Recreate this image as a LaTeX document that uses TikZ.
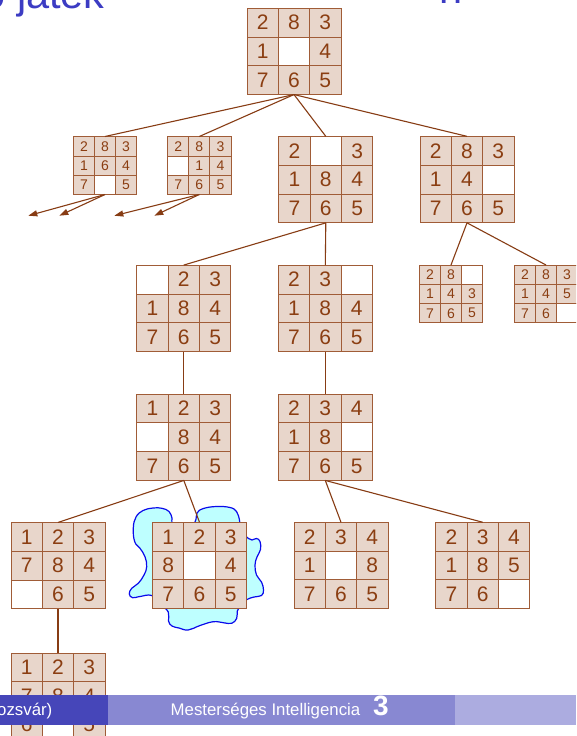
\documentclass[tikz,border=0pt]{standalone}
\usepackage{fontspec}
\setmainfont{Liberation Sans}
\usetikzlibrary{arrows.meta,positioning}
\definecolor{tilefill}{RGB}{232,214,203}
\definecolor{tileline}{RGB}{160,92,55}
\definecolor{tilenum}{RGB}{139,62,18}
\definecolor{treeline}{RGB}{135,60,20}
\definecolor{goalfill}{RGB}{190,255,255}
\definecolor{goalline}{RGB}{10,10,235}
\definecolor{titleblue}{RGB}{60,60,195}
\definecolor{footdark}{RGB}{70,70,185}
\definecolor{footmid}{RGB}{136,136,210}
\definecolor{footlight}{RGB}{172,172,224}

% board: name, centre, cell width, cell height, digit size, tiles (0 = empty)
\newcommand{\board}[6]{%
  \node[inner sep=0pt, minimum width=3*#3, minimum height=3*#4] (#1) at (#2) {};
  \foreach \t [count=\k from 0] in {#6} {
    \pgfmathtruncatemacro{\tcol}{mod(\k,3)-1}
    \pgfmathtruncatemacro{\trow}{1-div(\k,3)}
    \ifnum\t=0\relax \def\lbl{}\def\bg{white}\else \let\lbl\t\def\bg{tilefill}\fi
    \node[tile, fill=\bg, minimum width=#3, minimum height=#4,
          font=\fontsize{#5}{#5}\selectfont,
          xshift=\tcol*#3, yshift=\trow*#4] at (#1) {\lbl};
  }
}

\begin{document}
\begin{tikzpicture}[x=1pt, y=-1pt,
    tile/.style={draw=tileline, text=tilenum, inner sep=0pt, line width=0.8pt},
    edge/.style={draw=treeline, line width=1.1pt},
    tip/.style={edge, -{Triangle[length=9pt, width=6pt]}}]
  \useasboundingbox (0,0) rectangle (576,736);
  \clip (0,0) rectangle (576,736);
  \fill[white] (0,0) rectangle (576,736);

  % title (cut at the top)
  \node[anchor=base east, text=titleblue, inner sep=0pt,
        font=\fontsize{41.5}{42}\selectfont] (title) at (105,9) {ó játék};
  \node[anchor=base west, text=titleblue, inner sep=0pt,
        font=\fontsize{41.5}{42}\selectfont] (titlerest) at (439,3.5) {n};

  % goal marker
  \draw[goalline, fill=goalfill, line width=1.2pt] plot[smooth cycle, tension=0.7] coordinates {
    (133.3,528) (136,517) (143,510.5) (153,508) (162,508.3) (169,511.5) (172,518) (173,524)
    (185,535)
    (195,522) (197,513) (203.5,508.5) (216.5,506.5) (230,507.5) (236.5,511.5) (239.5,520) (240,526)
    (244,534)
    (248.5,538.5) (252,540) (256.5,538.5) (260,541.5) (260.5,549.5) (257,557) (255,565)
    (256.5,575) (261.5,582) (263.5,590) (261.5,595.5) (254,597) (246,600)
    (240,606)
    (237.3,611) (236.7,618.3) (231.7,623.3) (223.3,622.7) (213.3,621.7) (200,625.5)
    (188.3,630) (179,628) (172,626) (168.5,621) (168.3,612)
    (160,604)
    (151.7,595.5) (140,596.5) (132.7,597.7) (129.3,594) (131.7,588.3) (138.3,583.3)
    (144,575) (146.7,566.7) (145,556.7) (140,548.3) (134.7,541.7)};

  % boards
  \board{root}{294,51.3}{31.3pt}{28.7pt}{21}{2,8,3,1,0,4,7,6,5}
  \board{l}{105,165.5}{21.1pt}{19.2pt}{14}{2,8,3,1,6,4,7,0,5}
  \board{ll}{199.3,165.5}{21.1pt}{19.2pt}{14}{2,8,3,0,1,4,7,6,5}
  \board{u}{325.8,179.6}{31.3pt}{28.7pt}{21}{2,0,3,1,8,4,7,6,5}
  \board{r}{467,179.6}{31.3pt}{28.7pt}{21}{2,8,3,1,4,0,7,6,5}
  \board{ul}{183.8,308.3}{31.3pt}{28.7pt}{21}{0,2,3,1,8,4,7,6,5}
  \board{ur}{325.3,308.3}{31.3pt}{28.7pt}{21}{2,3,0,1,8,4,7,6,5}
  \board{ru}{451,294}{21.1pt}{19.2pt}{14}{2,8,0,1,4,3,7,6,5}
  \board{rd}{546,294}{21.1pt}{19.2pt}{14}{2,8,3,1,4,5,7,6,0}
  \board{uld}{183.8,437.2}{31.3pt}{28.7pt}{21}{1,2,3,0,8,4,7,6,5}
  \board{urd}{325.3,437.2}{31.3pt}{28.7pt}{21}{2,3,4,1,8,0,7,6,5}
  \board{uldd}{58,565.7}{31.3pt}{28.7pt}{21}{1,2,3,7,8,4,0,6,5}
  \board{goal}{199.5,565.5}{31.3pt}{28.7pt}{21}{1,2,3,8,0,4,7,6,5}
  \board{urdl}{341,565.5}{31.3pt}{28.7pt}{21}{2,3,4,1,0,8,7,6,5}
  \board{urdd}{482.7,565.5}{31.3pt}{28.7pt}{21}{2,3,4,1,8,5,7,6,0}
  \board{ulddr}{58,696}{31.3pt}{28.7pt}{21}{1,2,3,7,8,4,6,0,5}

  % tree
  \draw[edge] (root.south) -- (l.north);
  \draw[edge] (root.south) -- (ll.north);
  \draw[edge] (root.south) -- (u.north);
  \draw[edge] (root.south) -- (r.north);
  \draw[edge] (u.south) -- (ul.north);
  \draw[edge] (u.south) -- (ur.north);
  \draw[edge] (r.south) -- (ru.north);
  \draw[edge] (r.south) -- (rd.north);
  \draw[edge] (ul.south) -- (uld.north);
  \draw[edge] (ur.south) -- (urd.north);
  \draw[edge] (uld.south) -- (uldd.north);
  \draw[edge] (uld.south) -- (goal.north);
  \draw[edge] (urd.south) -- (urdl.north);
  \draw[edge] (urd.south) -- (urdd.north);
  \draw[edge] (uldd.south) -- (ulddr.north);

  % unexpanded branches
  \coordinate (l1) at (28.3,215.7);
  \coordinate (l2) at (59.3,215.7);
  \coordinate (ll1) at (114.3,215.7);
  \coordinate (ll2) at (154.3,215.7);
  \draw[tip] (l.south) -- (l1);
  \draw[tip] (l.south) -- (l2);
  \draw[tip] (ll.south) -- (ll1);
  \draw[tip] (ll.south) -- (ll2);

  % footline
  \fill[footdark] (0,695) rectangle (108,725);
  \fill[footmid] (108,695) rectangle (454.5,725);
  \fill[footlight] (454.5,695) rectangle (576,725);
  \node[anchor=base east, text=white, inner sep=0pt,
        font=\fontsize{16.8}{17}\selectfont] (place) at (52.5,715) {ozsvár)};
  \node[anchor=base west, text=white, inner sep=0pt,
        font=\fontsize{16.8}{17}\selectfont] (course) at (170.5,715) {Mesterséges Intelligencia};
  \node[anchor=base west, text=white, inner sep=0pt,
        font=\bfseries\fontsize{28}{28}\selectfont] (page) at (373,715) {3};
\end{tikzpicture}
\end{document}
